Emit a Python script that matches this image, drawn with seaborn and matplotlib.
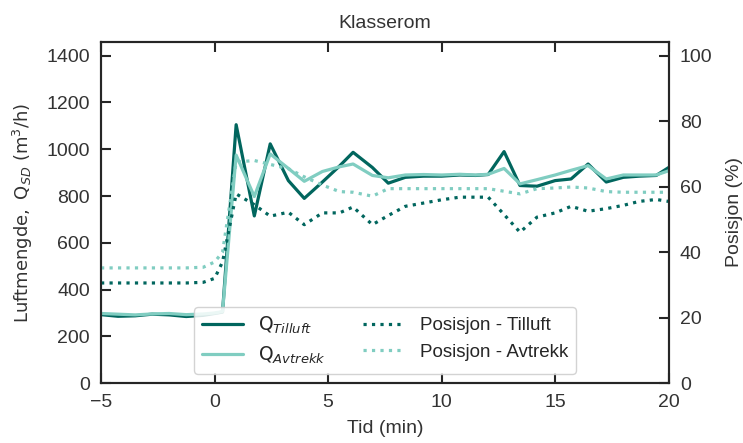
import numpy as np
import pandas as pd
import seaborn as sns
import matplotlib.pyplot as plt

# %% data
tid = [-5, -4.25, -3.5, -2.75, -2, -1.25, -0.5, 0.0, 0.35, 0.95, 1.75, 2.45, 3.25, 3.95,
       4.75, 5.5, 6.1, 6.95, 7.65, 8.4, 9.2, 10.0, 10.8, 11.5, 12.05, 12.75, 13.45,
       14.2, 15.0, 15.7, 16.45, 17.25, 18.0, 18.7, 19.45, 20.0]

q_tilluft = [293, 286, 288, 295, 292, 285, 290, 298, 304, 1105, 715, 1023, 866, 790,
             860, 928, 987, 922, 855, 880, 885, 885, 890, 888, 892, 990, 845,
             842, 866, 873, 937, 860, 880, 885, 888, 922]

q_avtrekk = [298, 295, 292, 296, 298, 293, 296, 300, 306, 975, 798, 980, 918, 863,
             905, 925, 937, 888, 878, 890, 892, 890, 893, 890, 893, 918, 852,
             870, 890, 910, 930, 873, 890, 890, 890, 908]

pos_tilluft = [30.6, 30.6, 30.6, 30.6, 30.6, 30.6, 30.8, 32.0, 37.0, 57.8, 54.5, 51.0, 52.2, 48.4,
               52.0, 52.0, 53.8, 48.4, 51.2, 54.0, 55.0, 56.0, 56.8, 56.8, 56.8, 51.5, 46.1,
               50.7, 52.0, 54.0, 52.5, 53.3, 54.3, 55.5, 56.1, 55.5]

pos_avtrekk = [35.2, 35.2, 35.2, 35.2, 35.2, 35.2, 35.4, 37.0, 40.0, 67.5, 68.0, 66.8, 65.5, 63.0,
               60.5, 58.5, 58.3, 57.1, 59.4, 59.4, 59.4, 59.4, 59.4, 59.4, 59.4, 58.6, 57.8,
               59.4, 59.6, 59.9, 59.6, 58.5, 58.3, 58.3, 58.3, 58.3]

df = pd.DataFrame({'Tid': tid, 'Q_T': q_tilluft, 'Q_A': q_avtrekk,
                   'P_T': pos_tilluft, 'P_A': pos_avtrekk})

# %% style
sns.set_style('ticks')
plt.rcParams['font.family'] = ['Liberation Sans', 'DejaVu Sans']
plt.rcParams['mathtext.fontset'] = 'dejavusans'
plt.rcParams['axes.edgecolor'] = '#262626'
plt.rcParams['axes.linewidth'] = 1.5

dark = '#01665e'
light = '#80cdc1'
txt = '#333333'

fig, ax = plt.subplots(figsize=(7.43, 4.43), dpi=100)
fig.subplots_adjust(left=0.136, right=0.900, top=0.906, bottom=0.135)
ax2 = ax.twinx()

sns.lineplot(data=df, x='Tid', y='Q_T', ax=ax, color=dark, lw=2.3)
sns.lineplot(data=df, x='Tid', y='Q_A', ax=ax, color=light, lw=2.3)
sns.lineplot(data=df, x='Tid', y='P_T', ax=ax2, color=dark, lw=2.3, linestyle=':')
sns.lineplot(data=df, x='Tid', y='P_A', ax=ax2, color=light, lw=2.3, linestyle=':')

ax.set_xlim(-5, 20)
ax.set_ylim(0, 1460)
ax2.set_ylim(0, 1460 / 14)
ax.set_xticks([-5, 0, 5, 10, 15, 20])
ax.set_yticks(np.arange(0, 1401, 200))
ax2.set_yticks(np.arange(0, 101, 20))

ax.tick_params(direction='in', length=7, width=1.5, top=True, labelsize=14,
               colors='#262626', labelcolor=txt, pad=8)
ax2.tick_params(direction='in', length=7, width=1.5, labelsize=14,
                colors='#262626', labelcolor=txt, pad=8)

ax.set_xlabel('Tid (min)', fontsize=14, color=txt, labelpad=6)
ax.set_ylabel(r'$\mathrm{Luftmengde,\ Q}_{SD}\ \mathrm{(m^3/h)}$', fontsize=13, color=txt, labelpad=8)
ax2.set_ylabel('Posisjon (%)', fontsize=14, color=txt, labelpad=10)
ax.set_title('Klasserom', fontsize=14, color=txt, pad=10)

# legend
lines = ax.get_lines()[:2] + ax2.get_lines()[:2]
labels = [r'$\mathrm{Q}_{Tilluft}$', r'$\mathrm{Q}_{Avtrekk}$', 'Posisjon - Tilluft', 'Posisjon - Avtrekk']
ax2.legend(lines, labels, loc='lower center', ncol=2, fontsize=13.5, handlelength=2.2,
           columnspacing=2.0, frameon=True, framealpha=0.85, edgecolor='#cccccc', fancybox=True)

fig.savefig('out.png', dpi=100)
